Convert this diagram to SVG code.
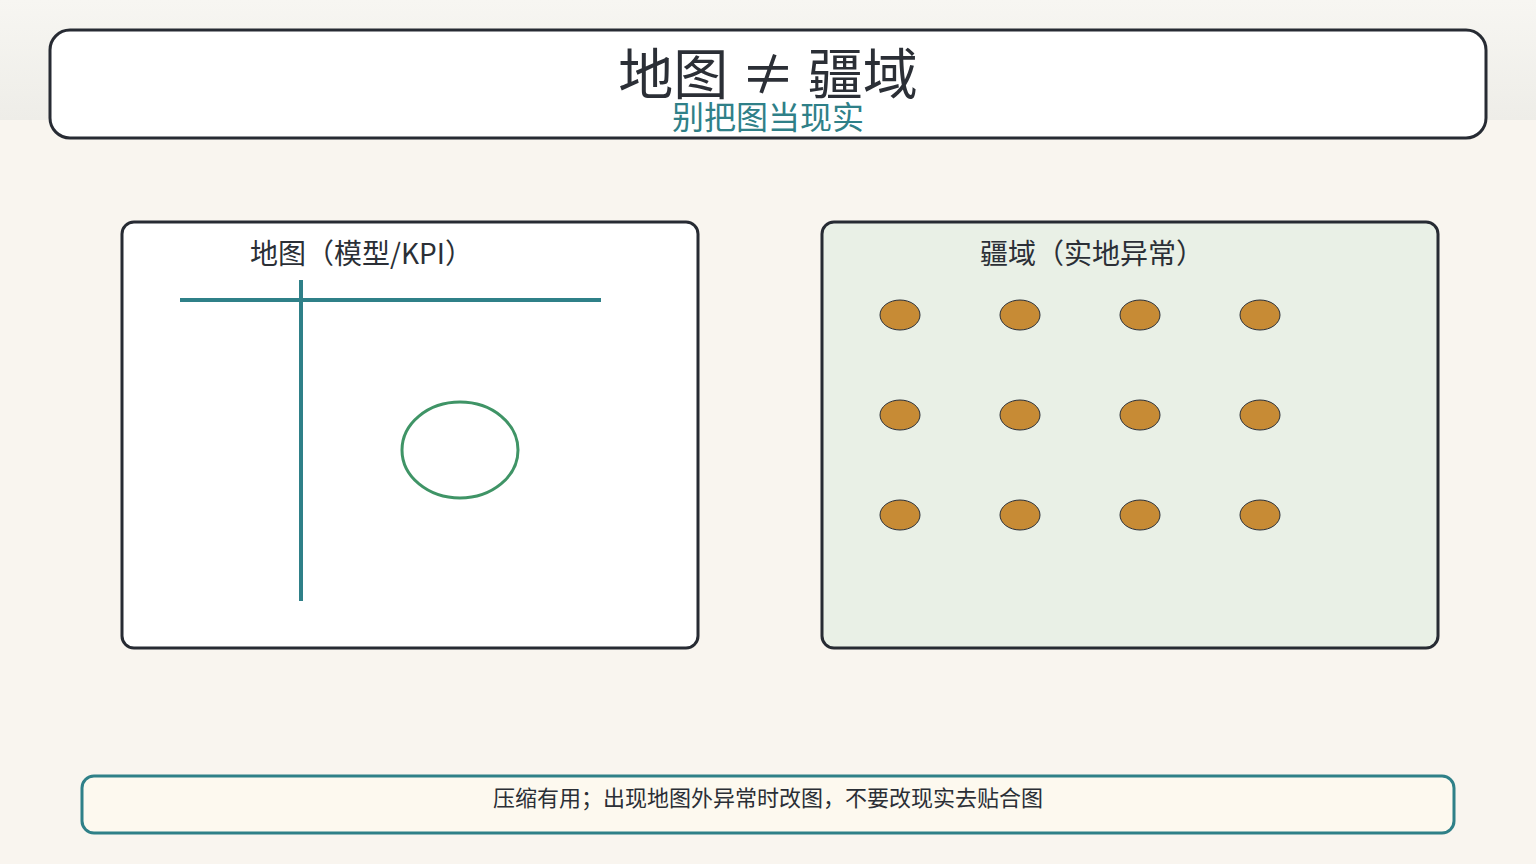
<svg xmlns="http://www.w3.org/2000/svg" width="1536" height="864" viewBox="0 0 1536 864">
<defs>
<linearGradient id="topband" x1="0" y1="0" x2="0" y2="1">
<stop offset="0" stop-color="#f7f6f2"/>
<stop offset="1" stop-color="#eeede8"/>
</linearGradient>
</defs>
<style>
.panel{stroke:#272b33;stroke-width:3}
.txt{font-family:"Noto Sans CJK SC","Noto Sans",sans-serif;fill:#2b2f36}
.dot{fill:#c78b35;stroke:#2b2f36;stroke-width:1}
.axis{stroke:#2f8088;stroke-width:4;fill:none}
</style>
<rect x="0" y="0" width="1536" height="864" fill="#f9f5ef"/>
<rect x="0" y="0" width="1536" height="120" fill="url(#topband)"/>
<g id="header">
<rect x="50" y="30" width="1436" height="108" rx="20" fill="#ffffff" class="panel"/>
<text x="768" y="94" text-anchor="middle" class="txt" font-size="55">地图 ≠ 疆域</text>
<text x="768" y="129" text-anchor="middle" class="txt" font-size="32" style="fill:#2f8088">别把图当现实</text>
</g>
<g id="map-panel">
<rect x="122" y="222" width="576" height="426" rx="12" fill="#ffffff" class="panel"/>
<text x="250" y="264" class="txt" font-size="28">地图（模型/KPI）</text>
</g>
<g id="map-axes">
<line x1="180" y1="300" x2="601" y2="300" class="axis"/>
<line x1="301" y1="280" x2="301" y2="601" class="axis"/>
</g>
<g id="map-ellipse">
<ellipse cx="460" cy="450" rx="58" ry="48" fill="none" stroke="#3f9466" stroke-width="3"/>
</g>
<g id="territory-panel">
<rect x="822" y="222" width="616" height="426" rx="12" fill="#e9f0e6" class="panel"/>
<text x="980" y="264" class="txt" font-size="28">疆域（实地异常）</text>
</g>
<g id="territory-dots">
<ellipse class="dot" cx="900" cy="315" rx="20" ry="15"/>
<ellipse class="dot" cx="1020" cy="315" rx="20" ry="15"/>
<ellipse class="dot" cx="1140" cy="315" rx="20" ry="15"/>
<ellipse class="dot" cx="1260" cy="315" rx="20" ry="15"/>
<ellipse class="dot" cx="900" cy="415" rx="20" ry="15"/>
<ellipse class="dot" cx="1020" cy="415" rx="20" ry="15"/>
<ellipse class="dot" cx="1140" cy="415" rx="20" ry="15"/>
<ellipse class="dot" cx="1260" cy="415" rx="20" ry="15"/>
<ellipse class="dot" cx="900" cy="515" rx="20" ry="15"/>
<ellipse class="dot" cx="1020" cy="515" rx="20" ry="15"/>
<ellipse class="dot" cx="1140" cy="515" rx="20" ry="15"/>
<ellipse class="dot" cx="1260" cy="515" rx="20" ry="15"/>
</g>
<g id="connectors"></g>
<g id="footer">
<rect x="82" y="776" width="1372" height="57" rx="12" fill="#fdf9ef" stroke="#2f8088" stroke-width="3"/>
<text x="768" y="806" text-anchor="middle" class="txt" font-size="22">压缩有用；出现地图外异常时改图，不要改现实去贴合图</text>
</g>
</svg>
